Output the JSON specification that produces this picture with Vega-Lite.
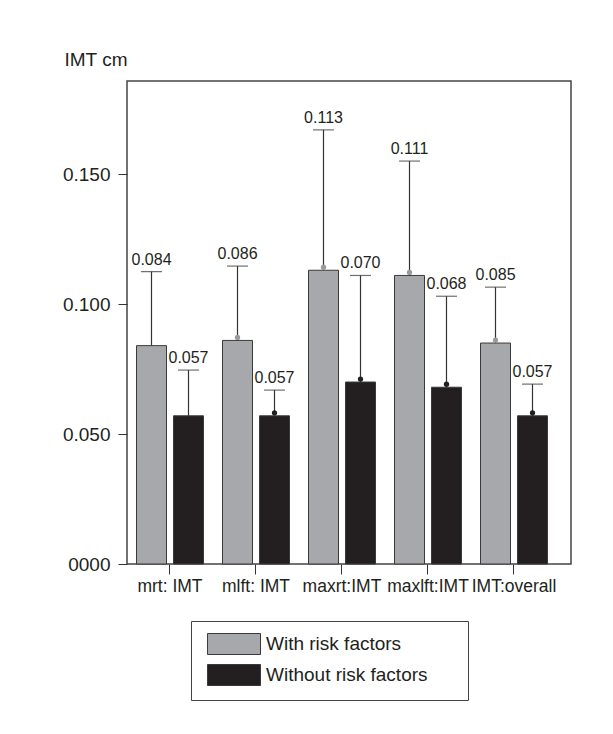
{
  "$schema": "https://vega.github.io/schema/vega-lite/v6.json",
  "width": 444,
  "height": 483,
  "autosize": {"type": "none"},
  "padding": {"left": 127, "top": 81, "right": 42, "bottom": 170},
  "background": "white",
  "config": {
    "view": {"stroke": "#444", "strokeWidth": 1.5},
    "font": "Liberation Sans",
    "axis": {"labelFont": "Liberation Sans", "titleFont": "Liberation Sans", "labelColor": "#231f20", "tickColor": "#333", "grid": false, "domain": false},
    "legend": {"labelFont": "Liberation Sans"}
  },
  "data": {
    "values": [
      {"category": "mrt: IMT", "group": "With risk factors", "value": 0.084, "upper": 0.1125},
      {"category": "mrt: IMT", "group": "Without risk factors", "value": 0.057, "upper": 0.0746},
      {"category": "mlft: IMT", "group": "With risk factors", "value": 0.086, "upper": 0.1146},
      {"category": "mlft: IMT", "group": "Without risk factors", "value": 0.057, "upper": 0.0669},
      {"category": "maxrt:IMT", "group": "With risk factors", "value": 0.113, "upper": 0.167},
      {"category": "maxrt:IMT", "group": "Without risk factors", "value": 0.070, "upper": 0.111},
      {"category": "maxlft:IMT", "group": "With risk factors", "value": 0.111, "upper": 0.155},
      {"category": "maxlft:IMT", "group": "Without risk factors", "value": 0.068, "upper": 0.103},
      {"category": "IMT:overall", "group": "With risk factors", "value": 0.085, "upper": 0.1065},
      {"category": "IMT:overall", "group": "Without risk factors", "value": 0.057, "upper": 0.0692}
    ]
  },
  "encoding": {
    "x": {
      "field": "category", "type": "nominal", "sort": null,
      "scale": {"paddingInner": 0, "paddingOuter": 0.0814, "align": 0},
      "axis": {"title": null, "labelAngle": 0, "tickSize": 10, "labelPadding": 3, "labelFontSize": 17.5, "labelLimit": 0}
    },
    "xOffset": {
      "field": "group", "type": "nominal", "sort": null,
      "scale": {"paddingInner": 0.189, "paddingOuter": 0.257}
    }
  },
  "layer": [
    {
      "mark": {"type": "bar", "stroke": "#3a3a3a", "strokeWidth": 1},
      "encoding": {
        "y": {
          "field": "value", "type": "quantitative",
          "scale": {"domain": [0, 0.1858], "nice": false},
          "axis": {
            "values": [0, 0.05, 0.1, 0.15],
            "labelExpr": "datum.value == 0 ? '0000' : format(datum.value, '.3f')",
            "tickSize": 9, "labelPadding": 8, "labelFontSize": 19,
            "title": "IMT cm", "titleAngle": 0, "titleAlign": "left", "titleBaseline": "alphabetic",
            "titleX": -63, "titleY": -16, "titleFontSize": 19, "titleFontWeight": "normal", "titleColor": "#231f20"
          }
        },
        "color": {
          "field": "group", "type": "nominal", "sort": null,
          "scale": {"domain": ["With risk factors", "Without risk factors"], "range": ["#a7a8ab", "#231f20"]},
          "legend": {
            "title": null, "orient": "none", "legendX": 64, "legendY": 540,
            "symbolType": "M-2.524,-1H2.524V1H-2.524Z", "symbolSize": 441,
            "symbolOffset": 20, "symbolStrokeColor": "#3a3a3a", "symbolStrokeWidth": 1, "symbolOpacity": 1,
            "labelFontSize": 19, "labelColor": "#231f20", "labelOffset": 21, "labelLimit": 0,
            "labelExpr": "datum.label + '\u2800\u2800'",
            "padding": 12, "rowPadding": 5, "strokeColor": "#444", "fillColor": "white"
          }
        }
      }
    },
    {
      "mark": {"type": "rule", "color": "#333", "strokeWidth": 1.2},
      "encoding": {
        "y": {"field": "value", "type": "quantitative"},
        "y2": {"field": "upper"}
      }
    },
    {
      "mark": {"type": "tick", "color": "#333", "size": 21, "thickness": 1.2, "orient": "horizontal"},
      "encoding": {
        "y": {"field": "upper", "type": "quantitative"}
      }
    },
    {
      "transform": [{"filter": "datum.category != 'mrt: IMT'"}],
      "mark": {"type": "circle", "size": 28, "opacity": 1},
      "encoding": {
        "y": {"field": "value", "type": "quantitative"},
        "yOffset": {"value": -3},
        "color": {"condition": {"test": "datum.group == 'With risk factors'", "value": "#9b9b9b"}, "value": "#231f20"}
      }
    },
    {
      "mark": {"type": "text", "baseline": "alphabetic", "dy": -7, "fontSize": 16, "color": "#231f20", "font": "Liberation Sans"},
      "encoding": {
        "y": {"field": "upper", "type": "quantitative"},
        "text": {"field": "value", "type": "quantitative", "format": ".3f"}
      }
    }
  ]
}
